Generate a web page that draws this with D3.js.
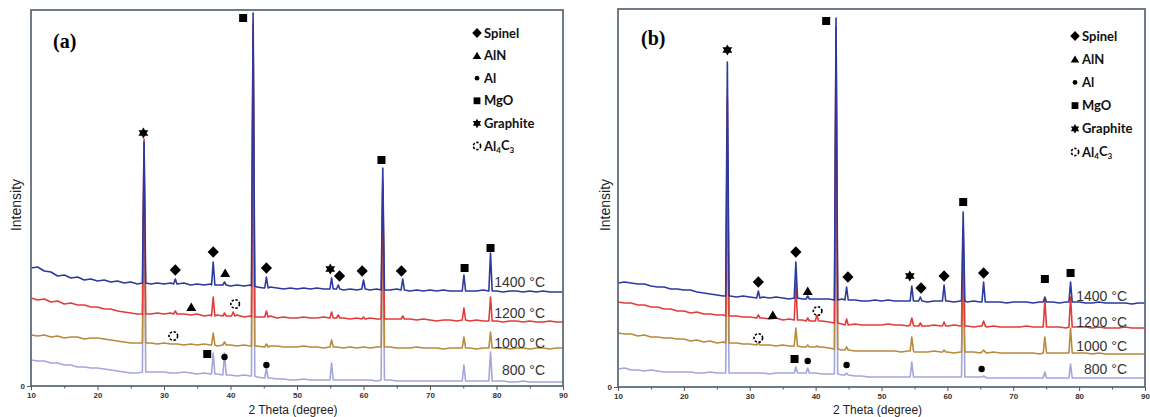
<!DOCTYPE html>
<html>
<head>
<meta charset="utf-8">
<script src="https://cdn.jsdelivr.net/npm/d3@7"></script>
<style>
body{margin:0;background:#fff;}
</style>
</head>
<body>
<div id="chart"></div>
<script>
// XRD patterns of the two sample series, panel (a) and panel (b)

const sampleTemps = ["1400 °C", "1200 °C", "1000 °C", "800 °C"];
const lineColors = ["#2b3a9c", "#e23b3b", "#b88a3c", "#a3a6dd"];
const phaseKeys = ["spinel", "aln", "al", "mgo", "graphite", "al4c3"];
const phaseLabels = ["Spinel", "AlN", "Al", "MgO", "Graphite", "Al4C3"];
const xTickValues = [10, 20, 30, 40, 50, 60, 70, 80, 90];

// background intensity read at 2θ = 10, 11, ... 90
const thetaGrid = d3.range(10, 91);

const baseA1400 = [118,119,115,114,110,111,108,109,106,107, 105,106,104,105,103,104,102,103,102,103,
  102,103,102,103,101,102,101,102,101,101, 100,101,100,101,99,98,99,98,97,98,
  97,98,97,98,97,97,98,96,97,96, 97,96,97,96,96,97,96,95,96,95,
  96,95,96,95,95,96,95,95,96,95, 95,94,95,95,94,95,94,95,94,94, 94];
const baseA1200 = [88,86,87,84,85,82,83,81,81,79, 79,77,77,75,74,73,72,73,72,73,
  72,73,71,72,71,72,70,71,71,70, 70,71,69,70,69,69,70,68,69,68,
  68,69,68,68,69,67,68,68,67,68, 67,68,67,66,67,67,66,67,66,67,
  66,65,66,66,65,66,65,66,65,65, 65,64,65,65,64,65,64,64,65,64, 64];
const baseA1000 = [51,50,51,49,50,48,49,49,47,48, 48,47,46,45,44,43,43,44,43,42,
  43,42,42,41,42,41,42,41,40,41, 41,40,41,40,40,39,40,40,39,39,
  39,40,39,39,38,39,39,38,39,38, 39,38,39,38,39,38,38,38,39,38,
  38,38,37,38,38,38,38,37,38,38, 38,38,37,38,38,37,38,38,37,38, 38];
const baseA800 = [26,25,25,23,23,21,21,19,19,18, 18,17,16,15,14,13,13,14,14,14,
  14,13,13,14,13,12,13,12,12,11, 11,10,11,10,9,8,8,7,7,6,
  6,7,6,6,6,5,6,6,6,6, 6,6,5,5,6,5,5,5,5,5,
  5,5,5,5,5,4,5,5,5,5, 5,5,4,4,5,4,4,4,4,4, 4];

const baseB1400 = [104,105,104,103,103,101,100,100,98,98, 97,97,95,94,93,92,91,91,90,91,
  90,89,90,89,90,89,88,89,88,89, 88,88,88,87,88,87,87,86,86,87,
  86,87,86,86,86,86,86,85,86,86, 86,85,86,85,86,85,85,85,85,84,
  85,85,85,84,85,85,85,84,85,85, 85,84,84,85,84,84,84,84,83,84, 84];
const baseB1200 = [85,84,84,82,82,80,80,78,78,76, 76,74,75,73,73,72,72,71,71,70,
  70,69,69,68,69,67,68,67,67,66, 66,66,65,64,63,62,63,62,62,62,
  62,63,62,62,61,61,62,61,62,61, 61,62,61,61,60,61,60,61,60,60,
  60,60,61,60,60,59,60,60,59,60, 60,60,59,60,59,59,59,60,59,59, 59];
const baseB1000 = [54,53,53,51,52,50,50,49,49,48, 48,46,47,45,46,44,45,44,44,43,
  43,42,42,42,41,42,41,41,40,41, 40,40,39,38,37,37,36,36,36,36,
  36,36,36,35,36,35,35,35,36,35, 35,34,35,35,35,34,34,35,34,34,
  34,34,34,34,33,34,34,34,34,33, 34,34,33,34,33,33,33,33,33,33, 33];
const baseB800 = [18,19,17,17,16,17,16,15,15,15, 15,15,14,14,15,14,14,14,14,14,
  14,14,14,13,14,14,14,13,14,14, 14,13,13,13,12,12,11,11,10,10,
  10,10,10,10,10,10,10,10,10,10, 10,10,10,10,10,10,9,9,9,9,
  9,9,9,9,9,9,9,9,9,9, 9,9,9,9,9,9,9,9,9,9, 9];

// reflections: [2θ, foot intensity, top intensity]
const peaksA1400 = [[27.0,103,244],[31.7,102,107],[37.4,101,124],[39.1,101,104],[43.4,100,373],[45.4,98,109],
  [55.2,97,108],[56.2,97,101],[60.0,97,106],[62.9,96,218],[65.9,96,107],[75.1,95,111],[79.1,95,133]];
const peaksA1200 = [[27.0,72,247],[31.7,72,75],[37.4,70,89],[39.1,70,73],[40.4,70,74],[43.4,69,362],[45.4,69,75],
  [55.2,68,74],[56.2,68,71],[60.0,67,69],[62.9,67,205],[65.9,67,70],[75.1,66,78],[79.1,65,89]];
const peaksA1000 = [[27.0,43,230],[37.4,41,53],[39.1,41,44],[43.4,40,350],[45.4,39,42],[55.2,39,46],
  [62.9,39,200],[75.1,38,49],[79.1,38,54]];
const peaksA800 = [[27.0,14,230],[37.4,12,33],[39.1,11,33],[43.4,10,350],[45.4,8,18],[55.2,6,23],
  [62.9,6,200],[75.1,5,21],[79.1,5,34]];

const peaksB1400 = [[26.6,91,325],[31.3,89,96],[37.0,89,125],[38.8,88,91],[43.1,87,369],[44.7,87,100],
  [54.6,86,101],[55.9,86,90],[59.5,86,102],[62.4,86,175],[65.5,85,105],[74.8,85,90],[78.7,85,105]];
const peaksB1200 = [[26.6,71,290],[31.3,69,72],[37.0,67,104],[38.8,66,69],[40.2,66,72],[43.1,64,360],[44.7,62,68],
  [54.6,62,69],[55.9,61,64],[59.5,61,65],[62.4,61,160],[65.5,61,66],[74.8,60,87],[78.7,60,90]];
const peaksB1000 = [[26.6,44,250],[31.3,42,44],[37.0,41,59],[38.8,40,42],[40.2,40,41],[43.1,38,350],[44.7,37,40],
  [54.6,36,50],[59.5,35,37],[62.4,35,130],[65.5,35,37],[74.8,34,50],[78.7,34,59]];
const peaksB800 = [[26.6,14,200],[37.0,14,20],[38.8,14,19],[43.1,13,300],[44.7,12,14],[54.6,10,25],
  [62.4,10,150],[65.5,10,11],[74.8,9,15],[78.7,9,23]];

// phase marks: [phase, 2θ, intensity]
const marksA = [["graphite",26.9,253],["mgo",41.9,368],["spinel",31.7,116],["spinel",37.4,134],["aln",39.2,113],
  ["spinel",45.4,118],["graphite",55.0,117],["spinel",56.4,110],["spinel",59.8,115],["mgo",62.7,226],
  ["spinel",65.7,115],["mgo",75.2,118],["mgo",79.1,138],
  ["aln",34.1,79],["al4c3",40.7,82],["al4c3",31.4,50],["mgo",36.5,32],["al",39.1,29],["al",45.4,21]];
const marksB = [["graphite",26.6,337],["mgo",41.6,366],["spinel",31.3,105],["spinel",37.0,135],["aln",38.8,96],
  ["spinel",44.9,110],["graphite",54.3,111],["spinel",56.0,99],["spinel",59.5,111],["mgo",62.4,185],
  ["spinel",65.5,114],["mgo",74.8,108],["mgo",78.7,114],
  ["aln",33.5,72],["al4c3",40.3,76],["al4c3",31.3,49],["mgo",36.8,28],["al",38.8,26],["al",44.7,22],["al",65.2,18]];

const halfW = 0.25;

function buildSeries(base, peaks) {
  const pts = thetaGrid.map((t, i) => [t, base[i]])
    .filter(p => !peaks.some(k => Math.abs(k[0] - p[0]) < halfW + 0.1));
  peaks.forEach(k => {
    pts.push([k[0] - halfW, k[1]], [k[0], k[2]], [k[0] + halfW, k[1]]);
  });
  return pts.sort((a, b) => a[0] - b[0]);
}

const panels = [
  { tag: "(a)", left: 31, right: 563, top: 10, bottom: 386,
    series: [buildSeries(baseA1400, peaksA1400), buildSeries(baseA1200, peaksA1200),
             buildSeries(baseA1000, peaksA1000), buildSeries(baseA800, peaksA800)],
    marks: marksA, labelY: [104, 73, 43, 16], legX: 477, legY: 33, legStep: 22.6,
    tagX: 53, tagY: 48, intX: 16 },
  { tag: "(b)", left: 618, right: 1145, top: 9, bottom: 387,
    series: [buildSeries(baseB1400, peaksB1400), buildSeries(baseB1200, peaksB1200),
             buildSeries(baseB1000, peaksB1000), buildSeries(baseB800, peaksB800)],
    marks: marksB, labelY: [91, 65, 41, 18], legX: 1075, legY: 36, legStep: 23.2,
    tagX: 641, tagY: 45, intX: 605 }
];

const svg = d3.select("#chart").append("svg")
  .attr("width", 1150)
  .attr("height", 417)
  .style("font-family", "Liberation Sans, Arial, sans-serif");

function drawMark(g, kind, x, y, s) {
  if (kind === "spinel") {
    g.append("path").attr("d", `M${x},${y-5.8*s}L${x+5.6*s},${y}L${x},${y+5.8*s}L${x-5.6*s},${y}Z`).attr("fill", "#000");
  } else if (kind === "aln") {
    g.append("path").attr("d", `M${x},${y-4.5*s}L${x+5*s},${y+4*s}L${x-5*s},${y+4*s}Z`).attr("fill", "#000");
  } else if (kind === "al") {
    g.append("circle").attr("cx", x).attr("cy", y).attr("r", 3.2*s).attr("fill", "#000");
  } else if (kind === "mgo") {
    g.append("rect").attr("x", x-4*s).attr("y", y-4*s).attr("width", 8*s).attr("height", 8*s).attr("fill", "#000");
  } else if (kind === "graphite") {
    // two triangles, same winding so the overlap stays filled
    g.append("path").attr("d",
      `M${x},${y-5.6*s}L${x+4.9*s},${y+2.8*s}L${x-4.9*s},${y+2.8*s}Z` +
      `M${x},${y+5.6*s}L${x-4.9*s},${y-2.8*s}L${x+4.9*s},${y-2.8*s}Z`).attr("fill", "#000");
  } else if (kind === "al4c3") {
    g.append("circle").attr("cx", x).attr("cy", y).attr("r", 4.3*s)
      .attr("fill", "#fff").attr("stroke", "#000").attr("stroke-width", 1.6)
      .attr("stroke-dasharray", "2.4 1.6");
  }
}

panels.forEach((p, pi) => {
  const x = d3.scaleLinear().domain([10, 90]).range([p.left, p.right]);
  const y = d3.scaleLinear().domain([0, p.bottom - p.top]).range([p.bottom, p.top]);
  const g = svg.append("g");

  const clipId = "clip" + pi;
  g.append("clipPath").attr("id", clipId).append("rect")
    .attr("x", p.left).attr("y", p.top).attr("width", p.right - p.left).attr("height", p.bottom - p.top);

  const line = d3.line().x(d => x(d[0])).y(d => y(d[1]));

  // draw 800 first so 1400 ends on top
  const lines_g = g.append("g").attr("clip-path", `url(#${clipId})`);
  [3, 2, 1, 0].forEach(i => {
    lines_g.append("path")
      .datum(p.series[i])
      .attr("d", line)
      .attr("fill", "none")
      .attr("stroke", lineColors[i])
      .attr("stroke-width", 1.6)
      .attr("stroke-linejoin", "round");
  });

  // frame
  g.append("rect")
    .attr("x", p.left).attr("y", p.top)
    .attr("width", p.right - p.left).attr("height", p.bottom - p.top)
    .attr("fill", "none").attr("stroke", "#5f6d79").attr("stroke-width", 1.8);

  // x axis
  const xAxis = g.append("g")
    .attr("transform", `translate(0,${p.bottom})`)
    .call(d3.axisBottom(x).tickValues(xTickValues).tickSize(4).tickPadding(2).tickFormat(d3.format("d")));
  xAxis.select(".domain").remove();
  xAxis.selectAll(".tick line").attr("stroke", "#555");
  xAxis.selectAll("text").attr("font-size", 8).attr("font-weight", "bold").attr("fill", "#333");
  g.append("g")
    .attr("transform", `translate(0,${p.bottom})`)
    .call(d3.axisBottom(x).tickValues([15, 25, 35, 45, 55, 65, 75, 85]).tickSize(2.5).tickFormat(""))
    .call(a => a.select(".domain").remove())
    .selectAll(".tick line").attr("stroke", "#555");

  // y axis, only the zero
  const yAxis = g.append("g")
    .attr("transform", `translate(${p.left},0)`)
    .call(d3.axisLeft(y).tickValues([0]).tickSize(4).tickPadding(2));
  yAxis.select(".domain").remove();
  yAxis.selectAll(".tick line").attr("stroke", "#555");
  yAxis.selectAll("text").attr("font-size", 8).attr("font-weight", "bold").attr("fill", "#333");

  // axis titles
  g.append("text")
    .attr("x", (p.left + p.right) / 2 - 4).attr("y", 414)
    .attr("text-anchor", "middle").attr("font-size", 12).attr("fill", "#222")
    .text("2 Theta (degree)");
  g.append("text")
    .attr("transform", `translate(${p.intX + 5},205) rotate(-90)`)
    .attr("text-anchor", "middle").attr("font-size", 14).attr("fill", "#222")
    .text("Intensity");

  // panel tag
  g.append("text")
    .attr("x", p.tagX).attr("y", p.tagY)
    .attr("font-family", "Liberation Serif, Times New Roman, serif")
    .attr("font-size", 20).attr("font-weight", "bold")
    .text(p.tag);

  // temperature labels
  sampleTemps.forEach((t, i) => {
    g.append("text")
      .attr("x", p.right - 18).attr("y", y(p.labelY[i]))
      .attr("dy", "0.35em")
      .attr("text-anchor", "end").attr("font-size", 14).attr("fill", "#333")
      .text(t);
  });

  // phase marks
  const marks_g = g.append("g");
  p.marks.forEach(m => drawMark(marks_g, m[0], x(m[1]), y(m[2]), 1));

  // legend
  const leg = g.append("g").attr("font-family", "Lato, Open Sans, sans-serif")
    .attr("font-weight", "bold").attr("font-size", 13).attr("fill", "#111");
  phaseKeys.forEach((k, i) => {
    const ly = p.legY + i * p.legStep;
    drawMark(leg, k, p.legX, ly, k === "al" ? 0.75 : 0.85);
    const t = leg.append("text").attr("x", p.legX + 7).attr("y", ly).attr("dy", "0.35em");
    if (k === "al4c3") {
      t.append("tspan").text("Al");
      t.append("tspan").attr("font-size", 8).attr("dy", "0.35em").text("4");
      t.append("tspan").attr("dy", "-0.25em").text("C");
      t.append("tspan").attr("font-size", 8).attr("dy", "0.35em").text("3");
    } else {
      t.text(phaseLabels[i]);
    }
  });
});
</script>
</body>
</html>
